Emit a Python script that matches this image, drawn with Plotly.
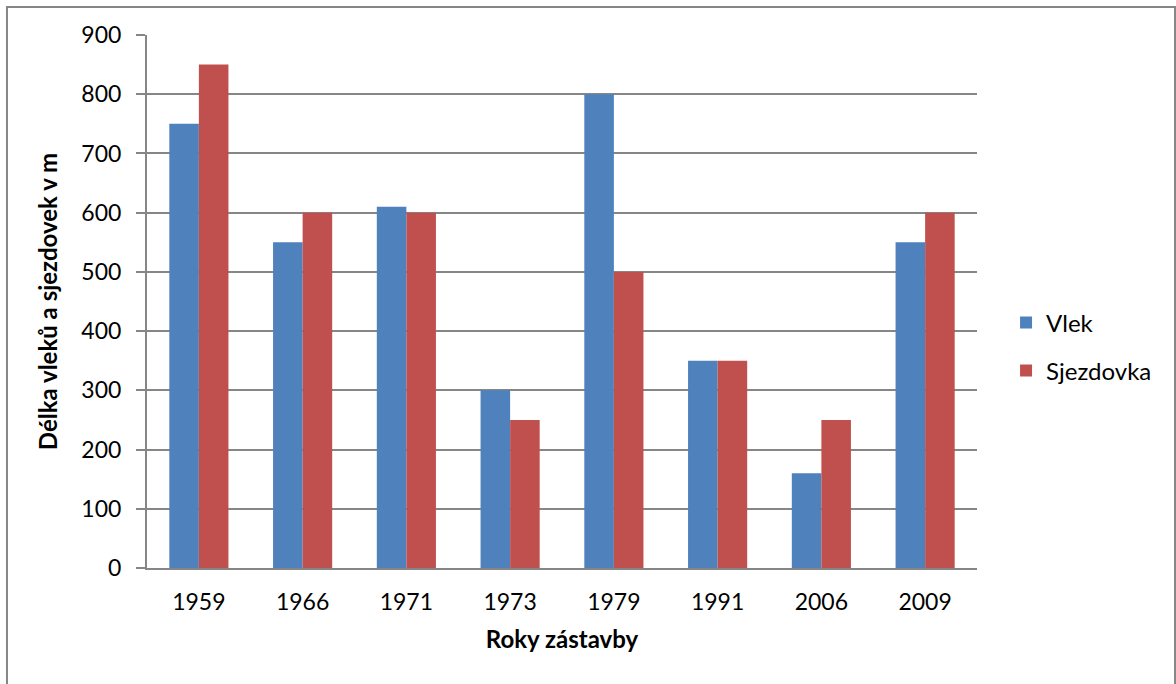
import plotly.graph_objects as go

years = ["1959", "1966", "1971", "1973", "1979", "1991", "2006", "2009"]
vlek = [750, 550, 610, 300, 800, 350, 160, 550]
sjezdovka = [850, 600, 600, 250, 500, 350, 250, 600]
y_ticks = [0, 100, 200, 300, 400, 500, 600, 700, 800, 900]

FONT = "Lato, Carlito, Calibri, sans-serif"

fig = go.Figure()
fig.add_trace(go.Bar(x=years, y=vlek, name="Vlek", legendgroup="a",
                     marker=dict(color="#4F81BD", line=dict(width=0))))
fig.add_trace(go.Bar(x=years, y=sjezdovka, name="Sjezdovka", legendgroup="b",
                     marker=dict(color="#C0504D", line=dict(width=0))))

fig.update_layout(
    width=1176, height=684,
    margin=dict(l=147, r=199, t=35, b=116),
    paper_bgcolor="white", plot_bgcolor="white",
    barmode="group", bargap=0.43, bargroupgap=0,
    font=dict(family=FONT, size=23, color="black"),
    showlegend=True,
    legend=dict(x=1.035, y=0.415, xanchor="left", yanchor="middle",
                font=dict(size=24), itemwidth=30, traceorder="grouped",
                tracegroupgap=14, bgcolor="rgba(0,0,0,0)"),
    xaxis=dict(
        showgrid=False, showline=True, linecolor="#868686", linewidth=2,
        ticks="", tickfont=dict(size=23), ticklabelstandoff=12,
        title=dict(text="<b>Roky zástavby</b>", font=dict(size=24), standoff=18),
    ),
    yaxis=dict(
        range=[0, 900], tickvals=y_ticks,
        showgrid=True, gridcolor="#868686", gridwidth=2,
        showline=True, linecolor="#868686", linewidth=2,
        ticks="outside", ticklen=9, tickcolor="#868686", tickwidth=2,
        tickfont=dict(size=23), zeroline=False, ticklabelstandoff=10,
        title=dict(text="<b>Délka vleků a sjezdovek v m</b>", font=dict(size=24), standoff=17),
    ),
    shapes=[
        dict(type="path", xref="paper", yref="paper",
             path="M -0.1687,-0.25 L -0.1687,1.0525 L 1.2386,1.0525 L 1.2386,-0.25",
             line=dict(color="#868686", width=2)),
    ],
)

fig.write_html("out.html", config={"displayModeBar": False},
               post_script="document.body.style.margin='0';")
